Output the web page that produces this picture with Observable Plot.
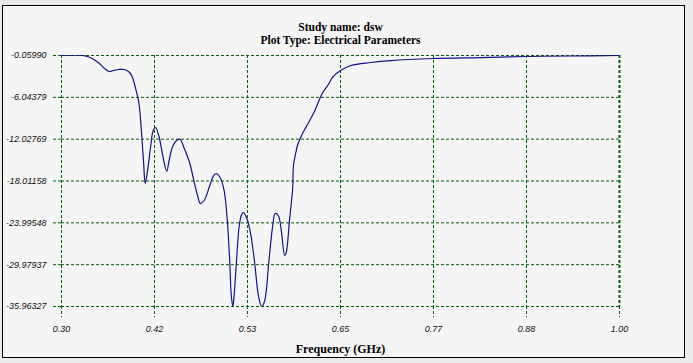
<!DOCTYPE html>
<html>
<head>
<meta charset="utf-8">
<script src="https://cdn.jsdelivr.net/npm/d3@7"></script>
<script src="https://cdn.jsdelivr.net/npm/@observablehq/plot@0.6"></script>
<style>
  html, body { margin: 0; padding: 0; background: #ebebeb; width: 693px; height: 363px; overflow: hidden; }
  #panel { position: absolute; left: 2px; top: 5px; width: 683px; height: 353px; box-sizing: border-box; border: 1px solid #000; background: #f5f5f5; }
  #chart { position: absolute; left: 0; top: 0; }
  #chart svg { background: transparent; }
</style>
</head>
<body>
<div id="panel"></div>
<div id="chart"></div>
<script>
const titleLines = ["Study name: dsw", "Plot Type: Electrical Parameters"];
const xTitle = "Frequency (GHz)";

const xTicks = [0.30, 0.41667, 0.53333, 0.65, 0.76667, 0.88333, 1.00];
const xTickLabels = ["0.30", "0.42", "0.53", "0.65", "0.77", "0.88", "1.00"];
const yTicks = [-0.0599, -6.04379, -12.02769, -18.01158, -23.99548, -29.97937, -35.96327];
const yTickLabels = ["-0.05990", "-6.04379", "-12.02769", "-18.01158", "-23.99548", "-29.97937", "-35.96327"];

const freq = [0.300, 0.326, 0.336, 0.346, 0.354, 0.360, 0.365, 0.372, 0.379, 0.384, 0.388, 0.393, 0.397, 0.400, 0.403, 0.405,
  0.408, 0.412, 0.415, 0.418, 0.422, 0.427, 0.432, 0.435, 0.440, 0.446, 0.449, 0.454, 0.461, 0.466, 0.471, 0.474,
  0.479, 0.486, 0.491, 0.494, 0.499, 0.504, 0.508, 0.511, 0.513, 0.515, 0.517, 0.520, 0.523, 0.526, 0.528, 0.532,
  0.537, 0.542, 0.547, 0.551, 0.555, 0.560, 0.565, 0.568, 0.572, 0.576, 0.580, 0.582, 0.586, 0.590, 0.591, 0.594,
  0.596, 0.600, 0.605, 0.610, 0.616, 0.621, 0.627, 0.634, 0.641, 0.650, 0.663, 0.688, 0.713, 0.767, 0.826, 0.883,
  0.939, 1.000];
const s11 = [-0.06, -0.06, -0.35, -1.06, -1.92, -2.35, -2.21, -2.06, -2.06, -2.35, -2.92, -4.78, -6.78, -10.5, -15.37, -18.37,
  -16.5, -12.93, -10.79, -10.36, -11.5, -14.36, -16.65, -15.08, -12.93, -12.08, -12.08, -13.36, -15.51, -17.94, -20.23, -21.23,
  -20.8, -18.65, -17.22, -16.94, -17.51, -19.37, -23.66, -29.38, -34.39, -35.96, -33.67, -28.67, -24.38, -22.8, -22.52, -23.23,
  -25.38, -29.38, -34.39, -35.96, -35.1, -29.67, -24.38, -22.66, -22.95, -25.38, -28.67, -28.2, -23.66, -19.08, -15.8, -13.93,
  -12.93, -11.79, -10.65, -9.64, -8.36, -7.07, -5.5, -4.35, -3.06, -2.21, -1.49, -1.06, -0.78, -0.49, -0.35, -0.2,
  -0.13, -0.06];

const data = freq.map((f, i) => ({f, v: s11[i]}));

const green = "#006000";
const dash = "3,2";

const chart = Plot.plot({
  width: 693,
  height: 363,
  marginLeft: 61,
  marginRight: 74,
  marginTop: 55,
  marginBottom: 57,
  style: {background: "transparent", overflow: "visible"},
  x: {domain: [0.3, 1.0]},
  y: {domain: [-35.96327, -0.0599]},
  marks: [
    Plot.gridX(xTicks, {stroke: green, strokeOpacity: 1, strokeDasharray: dash}),
    Plot.gridY(yTicks, {stroke: green, strokeOpacity: 1, strokeDasharray: dash}),
    Plot.ruleX([1.0], {stroke: green, strokeWidth: 2, strokeDasharray: dash}),
    Plot.axisX(xTicks, {
      tickSize: 11, tickPadding: 8, stroke: green, strokeDasharray: dash,
      fill: "#111", fontSize: 9, fontStyle: "italic", fontFamily: "Liberation Sans",
      tickFormat: d => xTickLabels[xTicks.indexOf(d)], label: null
    }),
    Plot.axisY(yTicks, {
      tickSize: 9, tickPadding: 6, stroke: green, strokeDasharray: dash,
      fill: "#111", fontSize: 9, fontStyle: "italic", fontFamily: "Liberation Sans",
      tickFormat: d => yTickLabels[yTicks.indexOf(d)], label: null
    }),
    Plot.line(data, {x: "f", y: "v", stroke: "#12128c", strokeWidth: 1.2, curve: "catmull-rom", clip: true}),
    Plot.text([titleLines.join("\n")], {text: d => d, frameAnchor: "top", lineAnchor: "bottom", dy: -12, lineHeight: 1.1,
      fontSize: 11.5, fontWeight: "bold", fontFamily: "Liberation Serif", fill: "#000"}),
    Plot.text([xTitle], {text: d => d, frameAnchor: "bottom", lineAnchor: "bottom", dy: 46,
      fontSize: 12, fontWeight: "bold", fontFamily: "Liberation Serif", fill: "#000"})
  ]
});
document.getElementById("chart").appendChild(chart);
</script>
</body>
</html>
